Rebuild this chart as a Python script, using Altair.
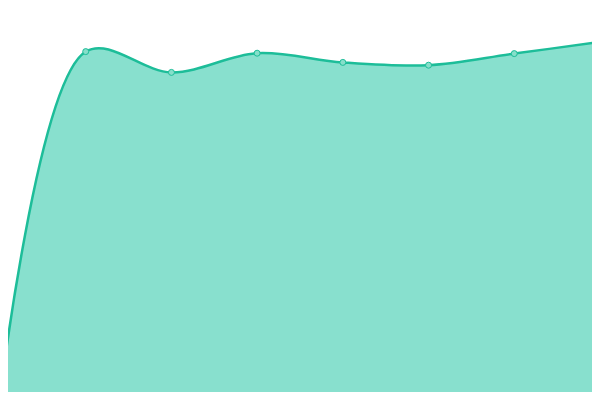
import altair as alt
import pandas as pd

steps = [0, 1, 2, 3, 4, 5, 6, 7]
values = [0.5, 87.1, 81.9, 86.7, 84.4, 83.7, 86.6, 89.5]

df = pd.DataFrame({"step": steps, "value": values})

x = alt.X("step:Q", axis=None, scale=alt.Scale(domain=[0.0933, 6.907], nice=False, zero=False))
y = alt.Y("value:Q", axis=None, scale=alt.Scale(domain=[2, 98], nice=False, zero=False))

base = alt.Chart(df).encode(x=x, y=y)

area = base.mark_area(interpolate="catmull-rom", color="#88e0ce", opacity=1)
line = base.mark_line(interpolate="catmull-rom", color="#1dbd99", strokeWidth=2.5)
pts = base.mark_point(filled=True, size=36, fill="#86dfca", stroke="#1dbd99", strokeWidth=1, opacity=1)

chart = (area + line + pts).properties(
    width=584, height=384, padding=0,
    autosize=alt.AutoSizeParams(type="none"),
).configure_view(stroke=None)

chart.save("out.html", embed_options={"renderer": "svg", "actions": False})
